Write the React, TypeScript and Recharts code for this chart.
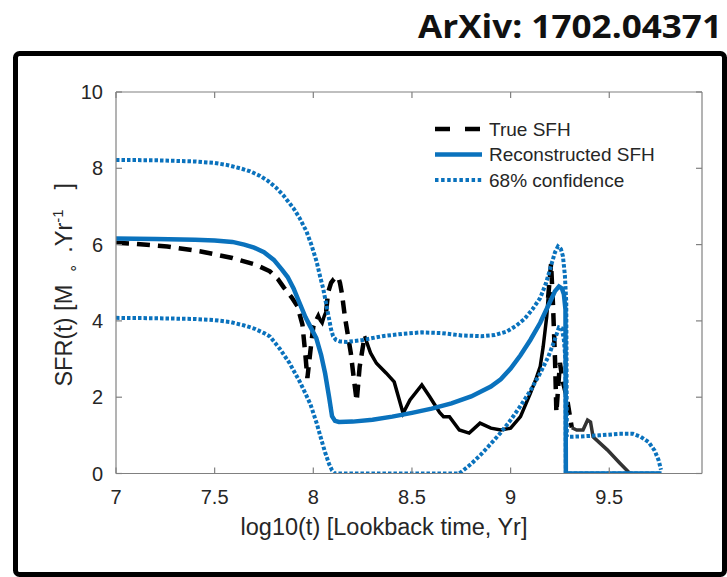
import React from 'react';
import { LineChart, Line, XAxis, YAxis, Legend, Label } from 'recharts';

// [log10(t), SFR] pairs
type Pt = [number, number];

const xTicks = [7, 7.5, 8, 8.5, 9, 9.5];
const yTicks = [0, 2, 4, 6, 8, 10];
const xDomain: [number, number] = [7, 9.97];
const yDomain: [number, number] = [0, 10];

// True SFH, split into the stretches that render dashed and the dense ones that read as solid
const trueSfhDashedEarly: Pt[] = [
  [7.0, 6.05], [7.1, 6.02], [7.26, 5.95], [7.43, 5.82], [7.59, 5.65], [7.71, 5.47],
  [7.78, 5.3], [7.82, 5.1], [7.85, 4.88], [7.89, 4.62], [7.92, 4.38], [7.945, 3.9],
  [7.96, 3.1], [7.97, 2.5], [7.985, 3.2], [8.0, 3.85], [8.015, 4.05],
];
const trueSfhWiggle: Pt[] = [
  [8.015, 4.05], [8.025, 4.15], [8.035, 4.02], [8.045, 3.95], [8.055, 4.12], [8.065, 4.25],
];
const trueSfhDashedBurst: Pt[] = [
  [8.065, 4.25], [8.075, 4.75], [8.09, 5.0], [8.105, 5.1], [8.125, 5.16], [8.135, 5.0],
  [8.145, 4.72], [8.16, 4.11], [8.19, 3.16], [8.205, 2.5], [8.22, 1.9], [8.235, 2.8], [8.26, 3.6],
];
const trueSfhMiddle: Pt[] = [
  [8.26, 3.6], [8.29, 3.16], [8.32, 2.89], [8.37, 2.63], [8.41, 2.4], [8.455, 1.58],
  [8.49, 1.93], [8.55, 2.32], [8.59, 2.01], [8.64, 1.6], [8.66, 1.49], [8.69, 1.49],
  [8.74, 1.14], [8.79, 1.06], [8.845, 1.32], [8.9, 1.19], [8.95, 1.14], [9.0, 1.19],
  [9.05, 1.49], [9.1, 2.1], [9.13, 2.5], [9.15, 2.8], [9.165, 3.32], [9.183, 4.11], [9.19, 4.6],
];
const trueSfhDashedPeak: Pt[] = [
  [9.19, 4.6], [9.205, 5.5], [9.215, 4.4], [9.225, 3.0], [9.232, 1.6], [9.25, 2.9],
  [9.265, 2.4], [9.285, 2.0], [9.31, 1.2],
];
const trueSfhTail: Pt[] = [
  [9.31, 1.2], [9.335, 1.14], [9.367, 1.14], [9.39, 1.4], [9.405, 1.35], [9.418, 0.96],
  [9.49, 0.62], [9.554, 0.27], [9.605, 0], [9.62, 0],
];

const reconstructedSfh: Pt[] = [
  [7.0, 6.16], [7.2, 6.15], [7.4, 6.13], [7.5, 6.11], [7.59, 6.07], [7.65, 6.0], [7.7, 5.92],
  [7.75, 5.8], [7.8, 5.6], [7.84, 5.35], [7.87, 5.15], [7.9, 4.85], [7.93, 4.47], [7.96, 4.1],
  [7.985, 3.85], [8.015, 3.55], [8.04, 3.1], [8.06, 2.62], [8.08, 2.0], [8.095, 1.5],
  [8.11, 1.38], [8.13, 1.35], [8.2, 1.36], [8.3, 1.41], [8.4, 1.49], [8.5, 1.59], [8.6, 1.7],
  [8.7, 1.84], [8.8, 2.02], [8.9, 2.28], [8.95, 2.47], [9.0, 2.75], [9.05, 3.1], [9.1, 3.5],
  [9.15, 3.95], [9.2, 4.5], [9.225, 4.78], [9.245, 4.9], [9.26, 4.85], [9.27, 4.7],
  [9.278, 4.3], [9.28, 0], [9.765, 0],
];

const upperConfidence: Pt[] = [
  [7.0, 8.22], [7.2, 8.21], [7.4, 8.18], [7.5, 8.14], [7.56, 8.09], [7.63, 8.0], [7.68, 7.92],
  [7.73, 7.8], [7.77, 7.67], [7.81, 7.5], [7.85, 7.28], [7.9, 6.95], [7.93, 6.7], [7.965, 6.35],
  [7.99, 6.0], [8.017, 5.55], [8.035, 5.15], [8.05, 4.85], [8.065, 4.45], [8.08, 4.05],
  [8.09, 3.78], [8.1, 3.6], [8.115, 3.5], [8.135, 3.46], [8.17, 3.45], [8.25, 3.5], [8.35, 3.6],
  [8.45, 3.66], [8.55, 3.7], [8.65, 3.68], [8.75, 3.62], [8.85, 3.6], [8.92, 3.63], [8.98, 3.72],
  [9.03, 3.88], [9.07, 4.05], [9.11, 4.3], [9.15, 4.6], [9.18, 5.0], [9.205, 5.45], [9.225, 5.8],
  [9.24, 5.95], [9.255, 5.88], [9.265, 5.7], [9.275, 5.2], [9.282, 4.5], [9.285, 0.96],
  [9.35, 0.97], [9.45, 1.0], [9.55, 1.04], [9.62, 1.04], [9.66, 0.96], [9.7, 0.82], [9.73, 0.6],
  [9.75, 0.35], [9.762, 0.1],
];

const lowerConfidence: Pt[] = [
  [7.0, 4.08], [7.2, 4.07], [7.4, 4.05], [7.5, 4.02], [7.58, 3.97], [7.65, 3.88], [7.7, 3.8],
  [7.75, 3.68], [7.78, 3.59], [7.83, 3.27], [7.88, 2.89], [7.93, 2.42], [7.96, 2.1],
  [7.985, 1.82], [8.017, 1.32], [8.04, 0.9], [8.06, 0.55], [8.08, 0.25], [8.095, 0.08],
  [8.11, 0], [8.74, 0], [8.8, 0.25], [8.85, 0.5], [8.9, 0.78], [8.95, 1.07], [9.0, 1.4],
  [9.05, 1.77], [9.1, 2.17], [9.15, 2.63], [9.19, 3.05], [9.22, 3.45], [9.245, 3.83],
  [9.26, 3.8], [9.27, 3.5], [9.278, 3.0], [9.28, 0], [9.765, 0],
];

const legendLabels = ['True SFH', 'Reconstructed SFH', '68% confidence'];

const toRows = (pts: Pt[]) => pts.map(([t, sfr]) => ({ t, sfr }));

const BLUE = '#0a72bd';
const BLACK = '#000000';
const AXIS = '#808080';
const TEXT = '#262626';
const FONT = '"Liberation Sans", Arial, Helvetica, sans-serif';
const TICK_LEN = 6;
const TICK_FONT = 20;
const LABEL_FONT = 23.5;

const DASH = '13 8';
const DOT = '3.5 2';

function BottomTick(props: any) {
  const { x, y, payload } = props;
  return (
    <g>
      <line x1={x} y1={y} x2={x} y2={y - TICK_LEN} stroke={AXIS} strokeWidth={1.2} />
      <text x={x} y={y + 16} dy="0.71em" textAnchor="middle" fontSize={TICK_FONT} fontFamily={FONT} fill={TEXT}>
        {String(payload.value)}
      </text>
    </g>
  );
}

function TopTick(props: any) {
  const { x, y } = props;
  return <line x1={x} y1={y} x2={x} y2={y + TICK_LEN} stroke={AXIS} strokeWidth={1.2} />;
}

function LeftTick(props: any) {
  const { x, y, payload } = props;
  return (
    <g>
      <line x1={x} y1={y} x2={x + TICK_LEN} y2={y} stroke={AXIS} strokeWidth={1.2} />
      <text x={x - 13} y={y} dy="0.355em" textAnchor="end" fontSize={TICK_FONT} fontFamily={FONT} fill={TEXT}>
        {String(payload.value)}
      </text>
    </g>
  );
}

function RightTick(props: any) {
  const { x, y } = props;
  return <line x1={x} y1={y} x2={x - TICK_LEN} y2={y} stroke={AXIS} strokeWidth={1.2} />;
}

function XTitle(props: any) {
  const vb = props.viewBox || { x: 116, y: 473.5, width: 586 };
  return (
    <text x={vb.x + vb.width / 2 - 25} y={vb.y + 61} textAnchor="middle" fontSize={LABEL_FONT} fontFamily={FONT} fill={TEXT}>
      log10(t) [Lookback time, Yr]
    </text>
  );
}

function YTitle(props: any) {
  const vb = props.viewBox || { x: 115, y: 92, width: 1, height: 381.5 };
  const cx = vb.x + (vb.width || 0) - 44;
  const cy = vb.y + vb.height / 2 + 2;
  return (
    <text x={cx} y={cy} transform={`rotate(-90 ${cx} ${cy})`} textAnchor="middle" fontSize={LABEL_FONT} fontFamily={FONT} fill={TEXT}>
      <tspan>SFR(t) [M</tspan>
      <tspan dx={12} dy={6} fontSize={15}>∘</tspan>
      <tspan dx={11} dy={-6}>.Yr</tspan>
      <tspan dy={-9} fontSize={15}>-1</tspan>
      <tspan dx={20} dy={9}>]</tspan>
    </text>
  );
}

function LegendBox() {
  const rowY = [14, 39.5, 65];
  const styles = [
    { stroke: BLACK, width: 4.5, dash: '15 15' },
    { stroke: BLUE, width: 4.5, dash: undefined },
    { stroke: BLUE, width: 4, dash: '3.5 2.6' },
  ];
  return (
    <svg width={260} height={80} style={{ display: 'block' }}>
      {legendLabels.map((label, i) => (
        <g key={label}>
          <line x1={5} x2={52} y1={rowY[i]} y2={rowY[i]} stroke={styles[i].stroke} strokeWidth={styles[i].width} strokeDasharray={styles[i].dash} />
          <text x={59} y={rowY[i]} dy="0.355em" fontSize={19} fontFamily={FONT} fill={TEXT}>
            {label}
          </text>
        </g>
      ))}
    </svg>
  );
}

const axisLine = { stroke: AXIS, strokeWidth: 1.2 };

export default function App() {
  return (
    <div style={{ position: 'absolute', left: 0, top: 0, width: 727, height: 577, background: '#fff', overflow: 'hidden' }}>
      <LineChart width={727} height={577} margin={{ top: 91, right: 24, bottom: 102.5, left: 115 }}>
        <XAxis
          xAxisId="bottom"
          type="number"
          dataKey="t"
          domain={xDomain}
          ticks={xTicks}
          interval={0}
          allowDataOverflow
          height={1}
          tickSize={0}
          tickMargin={0}
          tickLine={false}
          axisLine={axisLine}
          tick={<BottomTick />}
          label={<Label content={<XTitle />} />}
        />
        <XAxis
          xAxisId="top"
          orientation="top"
          type="number"
          dataKey="t"
          domain={xDomain}
          ticks={xTicks}
          interval={0}
          allowDataOverflow
          height={1}
          tickSize={0}
          tickMargin={0}
          tickLine={false}
          axisLine={axisLine}
          tick={<TopTick />}
        />
        <YAxis
          yAxisId="left"
          type="number"
          domain={yDomain}
          ticks={yTicks}
          interval={0}
          allowDataOverflow
          width={1}
          tickSize={0}
          tickMargin={0}
          tickLine={false}
          axisLine={axisLine}
          tick={<LeftTick />}
          label={<Label content={<YTitle />} />}
        />
        <YAxis
          yAxisId="right"
          orientation="right"
          type="number"
          domain={yDomain}
          ticks={yTicks}
          interval={0}
          allowDataOverflow
          width={1}
          tickSize={0}
          tickMargin={0}
          tickLine={false}
          axisLine={axisLine}
          tick={<RightTick />}
        />
        <Legend
          layout="vertical"
          align="center"
          verticalAlign="middle"
          content={<LegendBox />}
          wrapperStyle={{ left: 430, top: 115, width: 260, height: 80 }}
        />

        <Line xAxisId="bottom" yAxisId="left" name="True SFH" data={toRows(trueSfhDashedEarly)} dataKey="sfr" stroke={BLACK} strokeWidth={4.5} strokeDasharray={DASH} dot={false} isAnimationActive={false} />
        <Line xAxisId="bottom" yAxisId="left" name="True SFH wiggle" data={toRows(trueSfhWiggle)} dataKey="sfr" stroke={BLACK} strokeWidth={3.5} dot={false} legendType="none" isAnimationActive={false} />
        <Line xAxisId="bottom" yAxisId="left" name="True SFH burst" data={toRows(trueSfhDashedBurst)} dataKey="sfr" stroke={BLACK} strokeWidth={4.5} strokeDasharray={DASH} dot={false} legendType="none" isAnimationActive={false} />
        <Line xAxisId="bottom" yAxisId="left" name="True SFH middle" data={toRows(trueSfhMiddle)} dataKey="sfr" stroke={BLACK} strokeWidth={3.5} dot={false} legendType="none" isAnimationActive={false} />
        <Line xAxisId="bottom" yAxisId="left" name="True SFH peak" data={toRows(trueSfhDashedPeak)} dataKey="sfr" stroke={BLACK} strokeWidth={4.5} strokeDasharray={DASH} dot={false} legendType="none" isAnimationActive={false} />
        <Line xAxisId="bottom" yAxisId="left" name="True SFH tail" data={toRows(trueSfhTail)} dataKey="sfr" stroke="#333333" strokeWidth={3.5} dot={false} legendType="none" isAnimationActive={false} />

        <Line xAxisId="bottom" yAxisId="left" name="Reconstructed SFH" data={toRows(reconstructedSfh)} dataKey="sfr" stroke={BLUE} strokeWidth={4.5} dot={false} isAnimationActive={false} />
        <Line xAxisId="bottom" yAxisId="left" name="68% confidence" data={toRows(upperConfidence)} dataKey="sfr" stroke={BLUE} strokeWidth={4} strokeDasharray={DOT} dot={false} isAnimationActive={false} />
        <Line xAxisId="bottom" yAxisId="left" name="68% confidence lower" data={toRows(lowerConfidence)} dataKey="sfr" stroke={BLUE} strokeWidth={4} strokeDasharray={DOT} dot={false} legendType="none" isAnimationActive={false} />
      </LineChart>

      <svg width={727} height={577} style={{ position: 'absolute', left: 0, top: 0, pointerEvents: 'none' }}>
        <rect x={15.5} y={53.5} width={709} height={521} rx={4} fill="none" stroke="#000" strokeWidth={5} />
        <text x={722} y={38} textAnchor="end" fontSize={32} fontWeight={700} fontFamily='"Open Sans", "Noto Sans", sans-serif' fill="#111" textLength={304} lengthAdjust="spacingAndGlyphs">
          ArXiv: 1702.04371
        </text>
      </svg>
    </div>
  );
}
